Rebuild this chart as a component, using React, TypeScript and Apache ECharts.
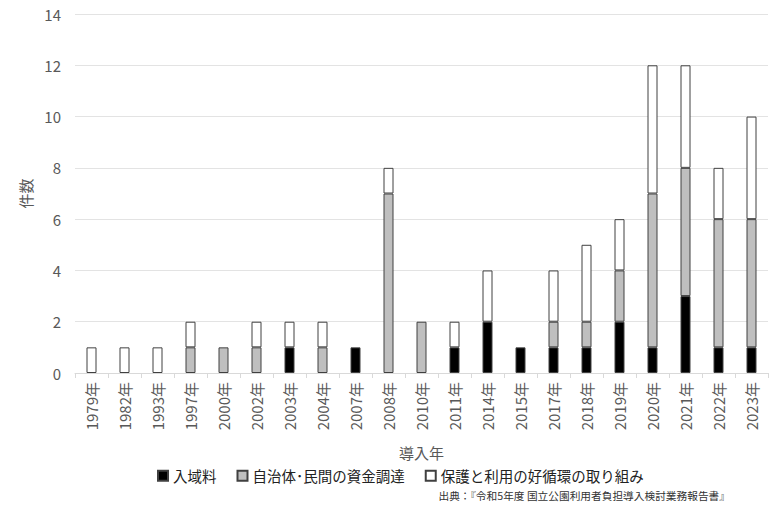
import React, { useEffect, useRef } from "react";
import * as echarts from "echarts";

const categories = [
  "1979年", "1982年", "1993年", "1997年", "2000年", "2002年", "2003年", "2004年", "2007年", "2008年",
  "2010年", "2011年", "2014年", "2015年", "2017年", "2018年", "2019年", "2020年", "2021年", "2022年", "2023年",
];
const entryFee = [0, 0, 0, 0, 0, 0, 1, 0, 1, 0, 0, 1, 2, 1, 1, 1, 2, 1, 3, 1, 1];
const funding = [0, 0, 0, 1, 1, 1, 0, 1, 0, 7, 2, 0, 0, 0, 1, 1, 2, 6, 5, 5, 5];
const cycle = [1, 1, 1, 1, 0, 1, 1, 1, 0, 1, 0, 1, 2, 0, 2, 3, 2, 5, 4, 2, 4];
const seriesNames = ["入域料", "自治体･民間の資金調達", "保護と利用の好循環の取り組み"];
const sourceText = "出典：『令和5年度 国立公園利用者負担導入検討業務報告書』";

const FONT = "'Noto Sans CJK JP', 'Noto Sans', sans-serif";

export default function App() {
  const ref = useRef<HTMLDivElement>(null);
  useEffect(() => {
    if (!ref.current) return;
    const chart = echarts.init(ref.current, undefined, { renderer: "svg" });
    const mk = (name: string, data: number[], color: string) => ({
      name,
      type: "bar",
      stack: "total",
      data: data.map((v) => (v === 0 ? null : v)),
      barWidth: 10,
      itemStyle: { color, borderColor: "#404040", borderWidth: 1 },
    });
    chart.setOption({
      animation: false,
      backgroundColor: "#ffffff",
      textStyle: { fontFamily: FONT },
      grid: { left: 75, right: 12, top: 14, bottom: 136, containLabel: false },
      legend: {
        bottom: 21,
        left: 152,
        icon: "rect",
        itemWidth: 10,
        itemHeight: 10,
        itemGap: 20,
        textStyle: { color: "#222", fontSize: 14.5, fontFamily: FONT },
        data: seriesNames,
      },
      xAxis: {
        type: "category",
        data: categories,
        name: "導入年",
        nameLocation: "middle",
        nameGap: 72,
        nameTextStyle: { color: "#595959", fontSize: 15, fontFamily: FONT },
        axisLine: { lineStyle: { color: "#d9d9d9" } },
        axisTick: { show: true, alignWithLabel: false, length: 5, lineStyle: { color: "#d9d9d9" } },
        axisLabel: { rotate: 90, color: "#595959", fontSize: 15, margin: 9, fontFamily: FONT },
      },
      yAxis: {
        type: "value",
        min: 0,
        max: 14,
        interval: 2,
        name: "件数",
        nameLocation: "middle",
        nameGap: 40,
        nameTextStyle: { color: "#595959", fontSize: 15, fontFamily: FONT },
        axisLine: { show: false },
        axisTick: { show: false },
        axisLabel: { color: "#595959", fontSize: 15, margin: 14, fontFamily: FONT },
        splitLine: { lineStyle: { color: "#e3e3e3" } },
      },
      series: [
        mk(seriesNames[0], entryFee, "#000000"),
        mk(seriesNames[1], funding, "#bfbfbf"),
        mk(seriesNames[2], cycle, "#ffffff"),
      ],
      graphic: [
        {
          type: "text",
          right: 50,
          top: 490,
          style: { text: sourceText, fontSize: 10.7, fill: "#333", fontFamily: FONT },
        },
      ],
    });
    return () => chart.dispose();
  }, []);
  return (
    <div
      ref={ref}
      style={{ position: "fixed", left: 0, top: 0, width: 780, height: 509 }}
    />
  );
}
